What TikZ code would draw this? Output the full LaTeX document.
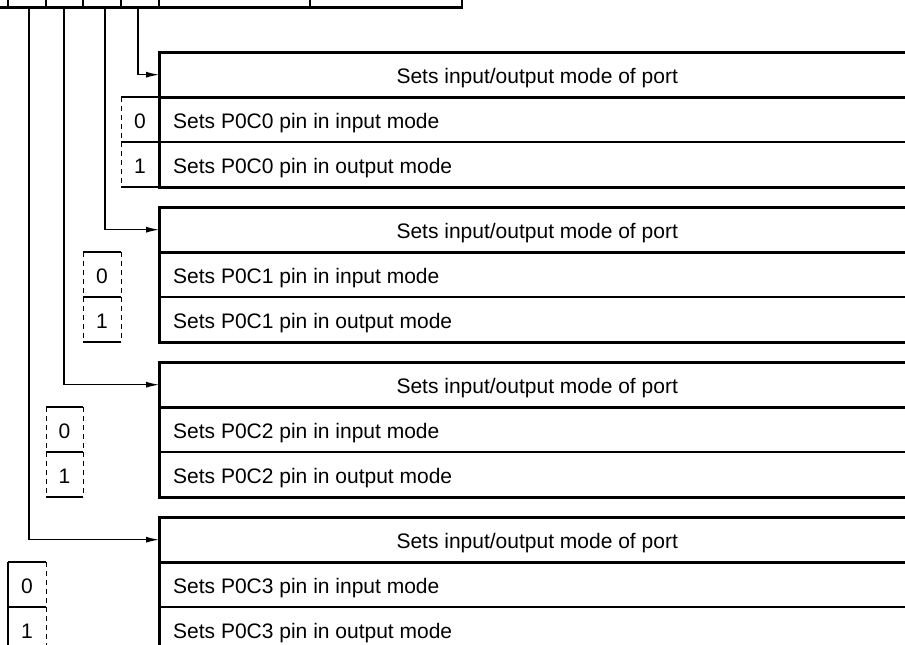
\documentclass[tikz,border=0pt]{standalone}
\usepackage{fontspec}
\setmainfont{Liberation Sans}
\usetikzlibrary{arrows.meta,positioning}

\tikzset{
  blockline/.style={line width=3pt},
  thinline/.style={line width=1.1pt},
  bitdash/.style={line width=1pt, dash pattern=on 5pt off 4pt},
  hdrbox/.style={minimum width=756pt, minimum height=45pt, anchor=north west, inner sep=0pt, text height=17pt, text depth=0pt},
  rowtext/.style={anchor=base west, inner sep=0pt},
  bitnum/.style={anchor=base, inner sep=0pt},
}

\begin{document}
\begin{tikzpicture}[x=1pt,y=-1pt,font=\fontsize{21}{25}\selectfont]
\clip (0,0) rectangle (905,645);

% register bits
\draw[line width=2.5pt] (0,7.5) -- (462,7.5) -- (462,-5);
\foreach \x in {8,46,83,121,159,310}
  \draw[thinline] (\x,-5) -- (\x,7.5);

% one block per bit
\foreach \k/\xl/\xr/\xb in {0/121/159/138, 1/83/121/105, 2/46/83/64, 3/8/46/29} {
  \pgfmathsetmacro{\T}{52+155*\k}
  \node[hdrbox] (hdr\k) at (159,\T) {Sets input/output mode of port};
  \draw[blockline] (915,\T) -- (159,\T) -- (159,\T+135) -- (915,\T+135)
    (159,\T+45) -- (915,\T+45);
  \draw[thinline] (159,\T+90) -- (915,\T+90);
  \node[rowtext] (in\k) at (173,\T+76) {Sets P0C\k\ pin in input mode};
  \node[rowtext] (out\k) at (173,\T+121) {Sets P0C\k\ pin in output mode};
  % bit values
  \draw[thinline] (\xl,\T+45) -- (\xr,\T+45) (\xl,\T+90) -- (\xr,\T+90) (\xl,\T+135) -- (\xr,\T+135);
  \draw[bitdash] (\xl,\T+45) -- (\xl,\T+135) (\xr,\T+45) -- (\xr,\T+135);
  \node[bitnum] (zero\k) at ({(\xl+\xr)/2},\T+76) {0};
  \node[bitnum] (one\k) at ({(\xl+\xr)/2},\T+121) {1};
  \coordinate (bit\k) at (\xb,8);
  \draw[thinline,-{Latex[length=13pt,width=6pt]}] (bit\k) |- (hdr\k.west);
}
\draw[thinline] (8,562) -- (8,652);
\end{tikzpicture}
\end{document}
